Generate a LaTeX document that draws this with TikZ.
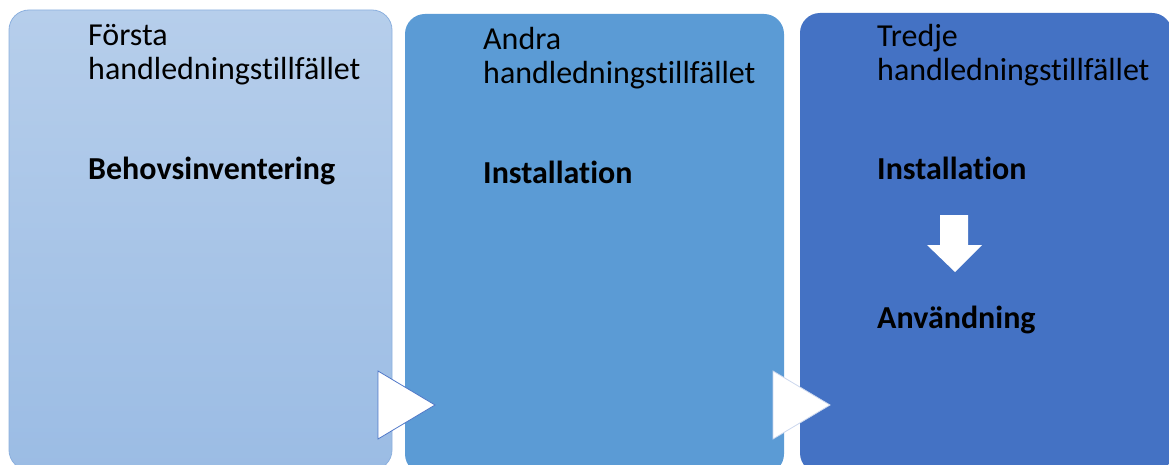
\documentclass[tikz,border=0pt]{standalone}
\usepackage{fontspec}
\setmainfont[Ligatures=NoCommon]{Carlito}
\definecolor{boxAtop}{RGB}{182,206,235}
\definecolor{boxAbot}{RGB}{155,188,228}
\definecolor{boxAline}{RGB}{140,176,222}
\definecolor{boxB}{RGB}{91,155,213}
\definecolor{boxC}{RGB}{68,114,196}
\definecolor{triline}{RGB}{80,120,200}
\begin{document}
\begin{tikzpicture}[x=1pt,y=-1pt,
  stage/.style={rectangle, rounded corners=20pt, inner sep=0pt},
  lbl/.style={anchor=base west, inner sep=0pt, font=\fontsize{32}{35}\selectfont, text=black},
  bold/.style={lbl, font=\fontsize{32}{35}\selectfont\bfseries},
  tri/.style={fill=white, draw=triline, line width=0.8pt, line join=miter}
]
\useasboundingbox (0,0) rectangle (1169,465);
\clip (0,0) rectangle (1169,465);
% stages
\node[stage, minimum width=383pt, minimum height=460pt, top color=boxAtop, bottom color=boxAbot, draw=boxAline, line width=0.8pt] (s1) at (200.5,240) {};
\node[stage, minimum width=379pt, minimum height=460pt, fill=boxB] (s2) at (594.5,244) {};
\node[stage, minimum width=372pt, minimum height=460pt, fill=boxC] (s3) at (986,243) {};
% chevrons between stages
\draw[tri] (378,371) -- (435,405) -- (378,439) -- cycle;
\draw[tri, draw=white!70!triline] (773,371) -- (830,405) -- (773,439) -- cycle;
% down arrow
\fill[white] (940,215) -- (968,215) -- (968,245) -- (982,245) -- (955,272) -- (927,245) -- (940,245) -- cycle;
% texts stage 1
\node[lbl] (t1a) at (88,46) {Första};
\node[lbl] (t1b) at (88,80) {handledningstillfället};
\node[bold] (t1c) at (88,180) {Behovsinventering};
% texts stage 2
\node[lbl] (t2a) at (483,50) {Andra};
\node[lbl] (t2b) at (483,84) {handledningstillfället};
\node[bold] (t2c) at (483,183) {Installation};
% texts stage 3
\node[lbl] (t3a) at (877,47) {Tredje};
\node[lbl] (t3b) at (877,81) {handledningstillfället};
\node[bold] (t3c) at (877,180) {Installation};
\node[bold] (t3d) at (877,328) {Användning};
\end{tikzpicture}
\end{document}
